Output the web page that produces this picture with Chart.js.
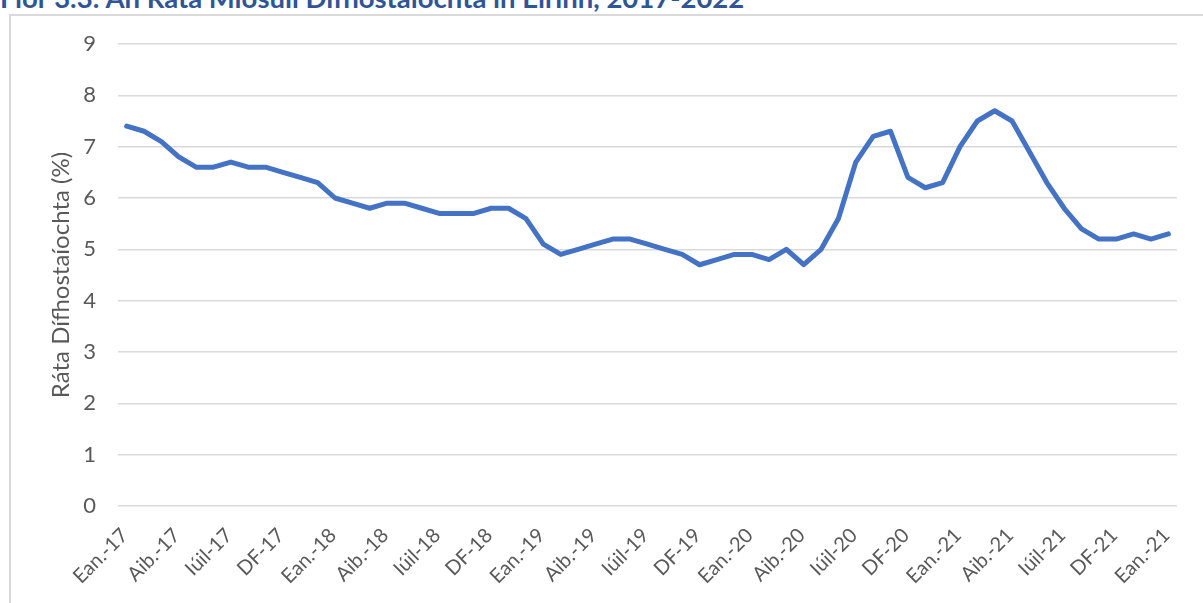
<!DOCTYPE html>
<html>
<head>
<meta charset="utf-8">
<script src="https://cdn.jsdelivr.net/npm/chart.js"></script>
<style>
  html, body { margin: 0; padding: 0; background: #fff; overflow: hidden; }
  #wrap { position: relative; width: 1203px; height: 603px; }
  #title {
    position: absolute; left: 0; top: -16px; white-space: nowrap;
    font: bold 27.5px Lato, sans-serif; color: #2F5597; line-height: 1;
  }
  #box {
    position: absolute; left: 9px; top: 14px; width: 1200px; height: 600px;
    border: 2px solid #d9d9d9; box-sizing: border-box;
  }
  canvas { position: absolute; left: 0; top: 0; }
</style>
</head>
<body>
<div id="wrap">
  <div id="box"></div>
  <div id="title">Fíor 3.3: An Ráta Míosúil Dífhostaíochta in Éirinn, 2017-2022</div>
  <canvas id="rateChart" width="1203" height="603"></canvas>
</div>
<script>
// one label every three months (Ean., Aib., Iúil, DF) as printed on the chart
const tickLabels = [
  "Ean.-17", "Aib.-17", "Iúil-17", "DF-17",
  "Ean.-18", "Aib.-18", "Iúil-18", "DF-18",
  "Ean.-19", "Aib.-19", "Iúil-19", "DF-19",
  "Ean.-20", "Aib.-20", "Iúil-20", "DF-20",
  "Ean.-21", "Aib.-21", "Iúil-21", "DF-21",
  "Ean.-21",
];

// monthly unemployment rate (%), Jan 2017 .. Jan 2022
const rates = [
  7.4, 7.3, 7.1, 6.8, 6.6, 6.6, 6.7, 6.6, 6.6, 6.5, 6.4, 6.3,
  6.0, 5.9, 5.8, 5.9, 5.9, 5.8, 5.7, 5.7, 5.7, 5.8, 5.8, 5.6,
  5.1, 4.9, 5.0, 5.1, 5.2, 5.2, 5.1, 5.0, 4.9, 4.7, 4.8, 4.9,
  4.9, 4.8, 5.0, 4.7, 5.0, 5.6, 6.7, 7.2, 7.3, 6.4, 6.2, 6.3,
  7.0, 7.5, 7.7, 7.5, 6.9, 6.3, 5.8, 5.4, 5.2, 5.2, 5.3, 5.2,
  5.3,
];

const yTicks = [0, 1, 2, 3, 4, 5, 6, 7, 8, 9];

const monthLabels = rates.map((v, i) => (i % 3 === 0 ? tickLabels[i / 3] : ""));

// Excel-style slanted category labels: the end of each label sits just under its tick
const slantedLabels = {
  id: "slantedLabels",
  afterDraw(chart) {
    const { ctx } = chart;
    const x = chart.scales.x;
    ctx.save();
    ctx.font = "20px Lato";
    ctx.fillStyle = "#595959";
    ctx.textAlign = "right";
    ctx.textBaseline = "middle";
    chart.data.labels.forEach((lab, i) => {
      if (!lab) return;
      ctx.save();
      ctx.translate(x.getPixelForValue(i) - 2, x.top + 26);
      ctx.rotate(-Math.PI / 4);
      ctx.fillText(lab, 0, 0);
      ctx.restore();
    });
    ctx.restore();
  },
};

const ctx = document.getElementById("rateChart").getContext("2d");

new Chart(ctx, {
  type: "line",
  data: {
    labels: monthLabels,
    datasets: [
      {
        label: "Ráta Dífhostaíochta",
        data: rates,
        borderColor: "#4472C4",
        borderWidth: 5,
        pointRadius: 0,
        tension: 0,
        borderCapStyle: "round",
        borderJoinStyle: "round",
        fill: false,
      },
    ],
  },
  options: {
    responsive: false,
    animation: false,
    layout: {
      padding: { top: 44, right: 26, left: 0, bottom: 0 },
    },
    plugins: {
      legend: { display: false },
      tooltip: { enabled: false },
    },
    scales: {
      x: {
        offset: true,
        grid: { display: false },
        border: { display: false },
        ticks: { display: false },
        afterFit: (scale) => {
          scale.height = 97;
          scale.paddingLeft = 0;
          scale.paddingRight = 0;
        },
      },
      y: {
        min: 0,
        max: 9,
        afterBuildTicks: (scale) => {
          scale.ticks = yTicks.map((v) => ({ value: v }));
        },
        grid: { color: "#d9d9d9", lineWidth: 1.5, drawTicks: false },
        border: { display: false },
        ticks: {
          padding: 22,
          color: "#595959",
          font: { family: "Lato", size: 22 },
        },
        title: {
          display: true,
          text: "Ráta Dífhostaíochta (%)",
          color: "#595959",
          font: { family: "Lato", size: 24 },
          padding: { top: 47, bottom: 0 },
        },
        afterFit: (scale) => {
          scale.width = 118;
        },
      },
    },
  },
  plugins: [slantedLabels],
});
</script>
</body>
</html>
